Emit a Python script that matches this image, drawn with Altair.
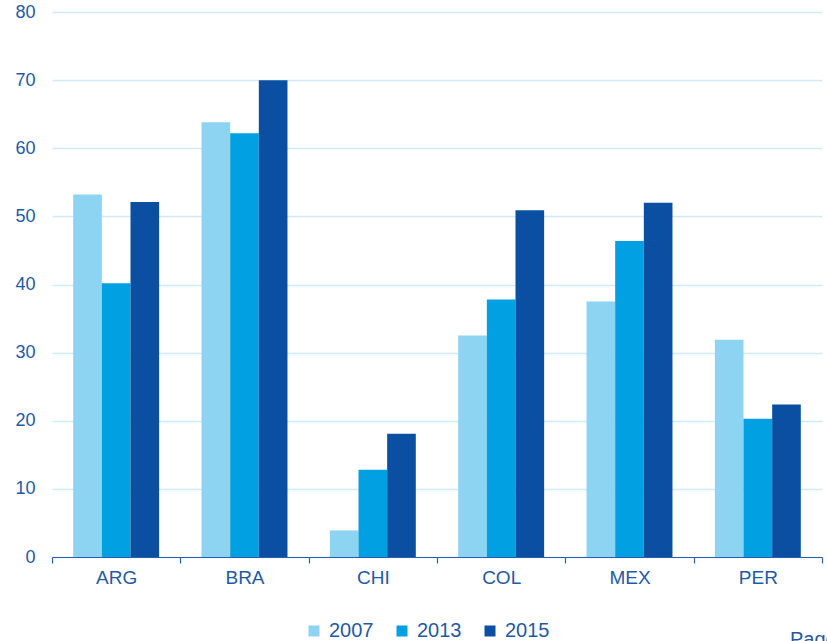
import altair as alt
import pandas as pd

countries = ["ARG", "BRA", "CHI", "COL", "MEX", "PER"]
years = ["2007", "2013", "2015"]
v2007 = [53.2, 63.8, 3.9, 32.5, 37.5, 31.9]
v2013 = [40.2, 62.2, 12.8, 37.8, 46.4, 20.3]
v2015 = [52.1, 70.0, 18.1, 50.9, 52.0, 22.4]
colors = ["#8DD3F2", "#00A0E2", "#0B4FA3"]
yticks = [0, 10, 20, 30, 40, 50, 60, 70, 80]

rows = []
for yr, vals in zip(years, [v2007, v2013, v2015]):
    for c, v in zip(countries, vals):
        rows.append({"country": c, "year": yr, "value": v})
df = pd.DataFrame(rows)

TXT = "#1F5AA6"
FONT = "Liberation Sans"

bars = alt.Chart(df).mark_bar().encode(
    x=alt.X("country:N", sort=countries, title=None,
            scale=alt.Scale(paddingInner=0, paddingOuter=0),
            axis=alt.Axis(labelAngle=0, tickBand="extent", tickSize=6,
                          labelPadding=5, labelFontSize=19, labelColor=TXT,
                          domainColor="#2A5FAD", tickColor="#2A5FAD",
                          domainWidth=1.2, tickWidth=1.2, grid=False,
                          labelFont=FONT)),
    xOffset=alt.XOffset("year:N", sort=years,
                        scale=alt.Scale(paddingInner=0, paddingOuter=0.74)),
    y=alt.Y("value:Q", title=None,
            scale=alt.Scale(domain=[0, 80], nice=False),
            axis=alt.Axis(values=yticks, tickSize=0, domain=False,
                          labelPadding=17, labelFontSize=18, labelColor=TXT,
                          gridColor="#CFEAF8", gridWidth=1.5,
                          labelFont=FONT)),
    color=alt.Color("year:N", sort=years,
                    scale=alt.Scale(domain=years, range=colors),
                    legend=alt.Legend(orient="none", legendX=252, legendY=609,
                                      direction="horizontal", title=None,
                                      symbolType="square", symbolSize=121,
                                      symbolStrokeWidth=0, labelFontSize=20,
                                      labelColor=TXT, labelOffset=5,
                                      columnPadding=18, padding=0,
                                      labelFont=FONT)),
)

page = alt.Chart(pd.DataFrame({"t": ["Page"]})).mark_text(
    align="left", baseline="alphabetic", fontSize=20, color=TXT, font=FONT
).encode(text="t:N", x=alt.value(738), y=alt.value(634))

chart = alt.layer(bars, page).properties(
    width=770, height=545,
    padding={"left": 52, "top": 12, "right": 5, "bottom": 84},
    autosize=alt.AutoSizeParams(type="none"),
).configure(font=FONT).configure_view(stroke=None, strokeWidth=0)

chart.save("out.html", embed_options={"renderer": "svg", "actions": False})
